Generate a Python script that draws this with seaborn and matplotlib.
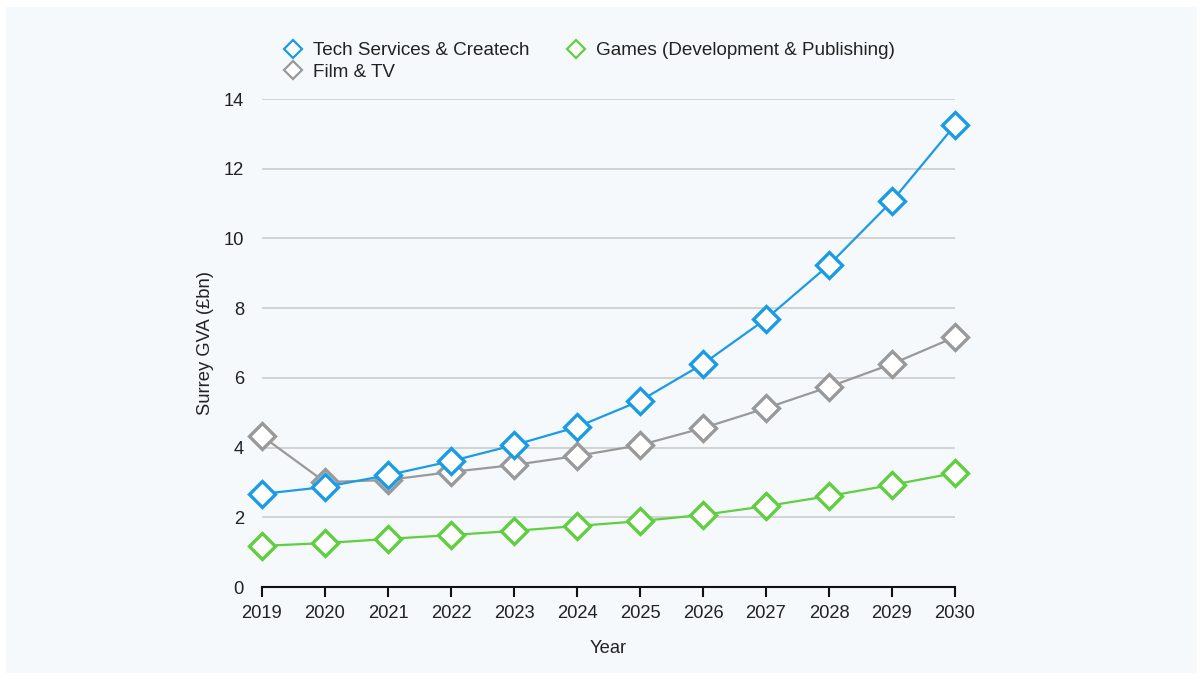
import matplotlib
matplotlib.use("Agg")
import matplotlib.pyplot as plt
import seaborn as sns
import pandas as pd
from matplotlib.patches import Rectangle
from matplotlib.lines import Line2D

years = [2019, 2020, 2021, 2022, 2023, 2024, 2025, 2026, 2027, 2028, 2029, 2030]
tech = [2.67, 2.87, 3.21, 3.61, 4.07, 4.59, 5.34, 6.40, 7.69, 9.24, 11.07, 13.25]
film = [4.33, 3.01, 3.07, 3.30, 3.50, 3.76, 4.07, 4.56, 5.13, 5.74, 6.40, 7.17]
games = [1.18, 1.26, 1.38, 1.49, 1.61, 1.75, 1.89, 2.07, 2.32, 2.61, 2.93, 3.27]
series_names = ["Tech Services & Createch", "Film & TV", "Games (Development & Publishing)"]
colors = ["#1a9be6", "#999999", "#5fcf3f"]
y_ticks = [0, 2, 4, 6, 8, 10, 12, 14]

df = pd.DataFrame({
    "Year": years * 3,
    "GVA": tech + film + games,
    "Series": [series_names[0]] * len(years) + [series_names[1]] * len(years) + [series_names[2]] * len(years),
})

sns.set_theme(style="white")
plt.rcParams["font.family"] = ["Liberation Sans", "DejaVu Sans"]

bg = "#f5f9fb"
fig = plt.figure(figsize=(12.03, 6.8), dpi=100, facecolor="white")
fig.patches.append(Rectangle((6 / 1203, 7 / 680), 1191 / 1203, 666 / 680,
                             transform=fig.transFigure, facecolor=bg, edgecolor="none", zorder=-10))
ax = fig.add_axes([262 / 1203, 93 / 680, 693 / 1203, 488 / 680])
ax.set_facecolor(bg)

order = [series_names[1], series_names[2], series_names[0]]
pal = dict(zip(series_names, colors))
for name in order:
    sub = df[df["Series"] == name]
    sns.lineplot(data=sub, x="Year", y="GVA", color=pal[name], linewidth=1.6,
                 marker="D", markersize=13, markerfacecolor="white",
                 markeredgecolor=pal[name], markeredgewidth=2.4,
                 ax=ax, legend=False, clip_on=False, zorder=3)

ax.set_xlim(2019, 2030)
ax.set_ylim(0, 14)
ax.set_xticks(years)
ax.set_xticklabels([str(y) for y in years])
ax.set_yticks(y_ticks)
ax.set_yticklabels([str(t) for t in y_ticks])
ax.yaxis.grid(True, color="#cccccc", linewidth=1.2)
ax.set_axisbelow(True)
for s in ["left", "right", "top"]:
    ax.spines[s].set_visible(False)
ax.spines["bottom"].set_color("#111111")
ax.spines["bottom"].set_linewidth(1.5)
ax.spines["bottom"].set_zorder(2)
ax.tick_params(axis="x", which="major", direction="out", length=7, width=1.5,
               color="#111111", bottom=True, labelsize=13.2, pad=6, labelcolor="#222222")
ax.tick_params(axis="y", length=0, labelsize=13.2, pad=13, labelcolor="#222222")
ax.set_xlabel("Year", fontsize=13.2, color="#222222", labelpad=13)
ax.set_ylabel("Surrey GVA (£bn)", fontsize=13.2, color="#222222", labelpad=7)

handles = [Line2D([], [], linestyle="none", marker="D", markersize=9, markerfacecolor="white",
                  markeredgecolor=c, markeredgewidth=1.6) for c in colors]
fig.legend(handles, series_names,
           loc="upper left", bbox_to_anchor=(267 / 1203, 1 - 25 / 680), ncol=2,
           frameon=False, fontsize=13.6, handlelength=1.0, handletextpad=0.55,
           columnspacing=1.95, labelspacing=0.22, labelcolor="#222222")

fig.savefig("out.png", dpi=100, facecolor="white")
